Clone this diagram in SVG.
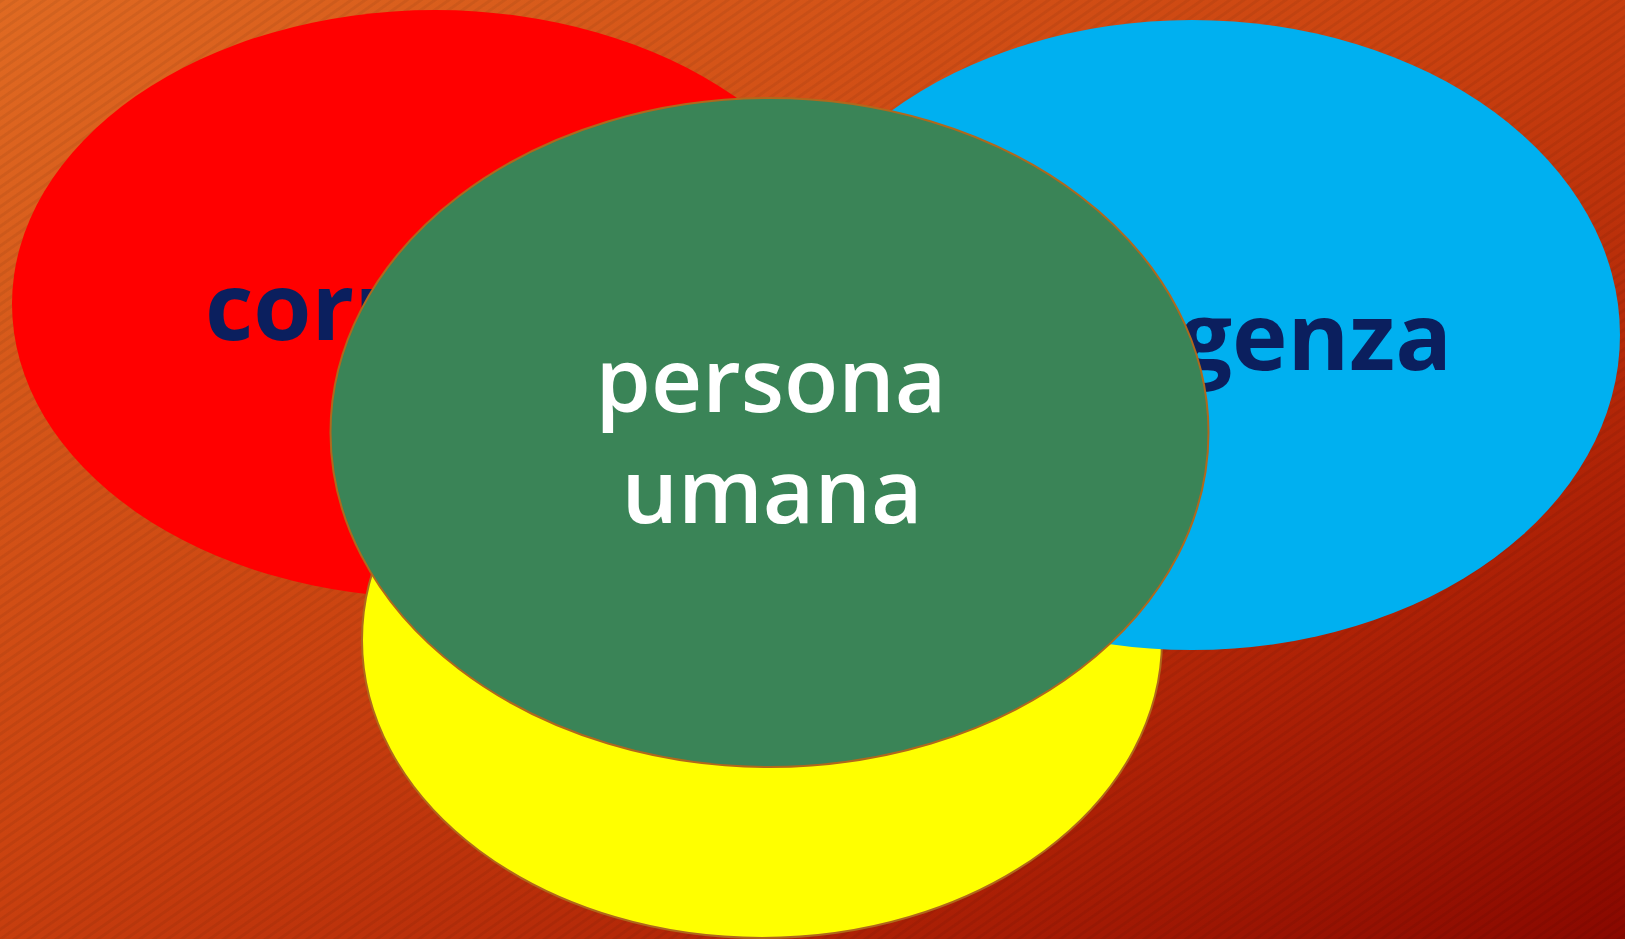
<svg xmlns="http://www.w3.org/2000/svg" width="1625" height="939" viewBox="0 0 1625 939">
  <defs>
    <linearGradient id="bg" x1="0" y1="0" x2="1" y2="1">
      <stop offset="0" stop-color="#E06A22"/>
      <stop offset="0.45" stop-color="#CB4310"/>
      <stop offset="0.75" stop-color="#AF2206"/>
      <stop offset="1" stop-color="#8A0800"/>
    </linearGradient>
    <pattern id="stripes" width="8" height="8" patternUnits="userSpaceOnUse" patternTransform="rotate(-35)">
      <rect x="0" y="0" width="8" height="3" fill="#000000" fill-opacity="0.06"/>
    </pattern>
    <style>
      .node-shape { stroke: none; }
      .edged { stroke: #B0681C; stroke-width: 2; }
      .lbl-dark { font-family: "Open Sans", "Liberation Sans", sans-serif; font-weight: 700; fill: #0B1F5E; font-size: 94px; }
      .lbl-light { font-family: "Open Sans", "Liberation Sans", sans-serif; font-weight: 600; fill: #FFFFFF; font-size: 89px; text-anchor: middle; }
    </style>
  </defs>

  <rect x="0" y="0" width="1625" height="939" fill="url(#bg)"/>
  <rect x="0" y="0" width="1625" height="939" fill="url(#stripes)"/>

  <g id="connectors"></g>

  <g id="node-corpo">
    <ellipse class="node-shape" cx="435" cy="304" rx="423" ry="294" fill="#FF0000"/>
    <text class="lbl-dark" x="205" y="340">corr</text>
  </g>

  <g id="node-giallo">
    <ellipse class="edged" cx="762" cy="640" rx="400" ry="298" fill="#FFFF00"/>
  </g>

  <g id="node-intelligenza">
    <ellipse class="node-shape" cx="1192" cy="335" rx="428" ry="315" fill="#00B0F0"/>
    <text class="lbl-dark" x="1452" y="370" text-anchor="end">igenza</text>
  </g>

  <g id="node-persona">
    <ellipse class="edged" cx="769.5" cy="432.5" rx="439" ry="334.5" fill="#3A8457"/>
    <text class="lbl-light" x="771" y="412">persona</text>
    <text class="lbl-light" x="772" y="523">umana</text>
  </g>
</svg>
